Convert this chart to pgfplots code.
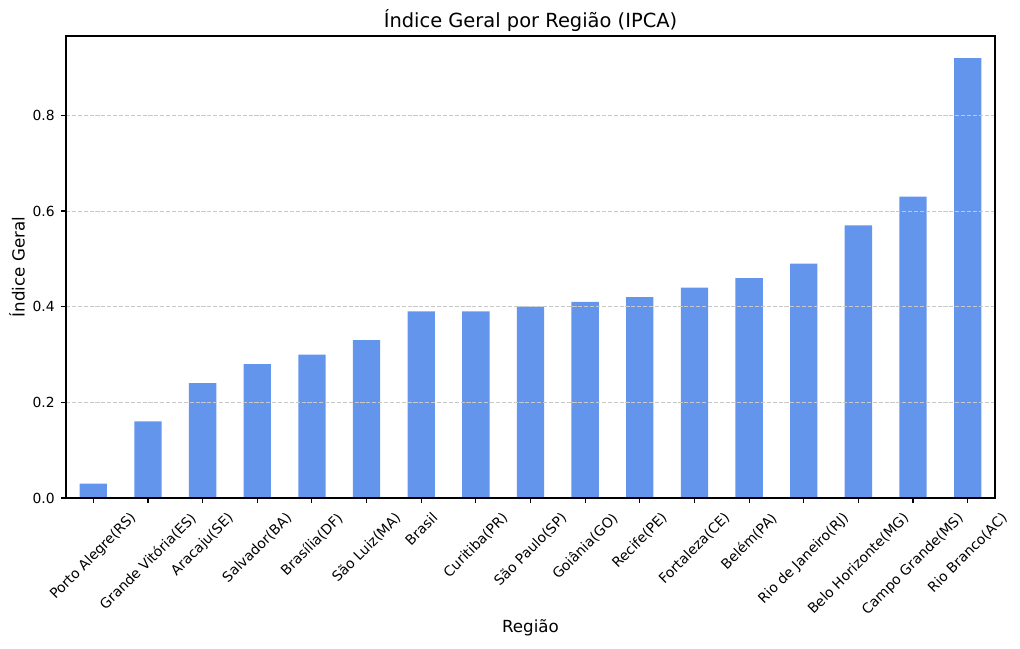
\documentclass[border=0pt]{standalone}
\usepackage{fontspec}
\setmainfont{DejaVu Sans}
\usepackage{graphicx}
\usepackage{pgfplots}
\pgfplotsset{compat=1.18}
\definecolor{barblue}{HTML}{6495ED}
\definecolor{gridgray}{HTML}{C8C8C8}
\begin{document}
\begin{tikzpicture}
\useasboundingbox (-47.52pt,-108pt) rectangle (686.88pt,358.56pt);
\begin{axis}[
  at={(0,0)}, anchor=south west,
  scale only axis,
  width=668.88pt, height=332.64pt,
  xmin=-0.5, xmax=16.5,
  ymin=0, ymax=0.966,
  axis on top,
  xtick={0,...,16},
  xticklabels={
    \rotatebox{45}{Porto Alegre(RS)},
    \rotatebox{45}{Grande Vitória(ES)},
    \rotatebox{45}{Aracaju(SE)},
    \rotatebox{45}{Salvador(BA)},
    \rotatebox{45}{Brasília(DF)},
    \rotatebox{45}{São Luiz(MA)},
    \rotatebox{45}{Brasil},
    \rotatebox{45}{Curitiba(PR)},
    \rotatebox{45}{São Paulo(SP)},
    \rotatebox{45}{Goiânia(GO)},
    \rotatebox{45}{Recife(PE)},
    \rotatebox{45}{Fortaleza(CE)},
    \rotatebox{45}{Belém(PA)},
    \rotatebox{45}{Rio de Janeiro(RJ)},
    \rotatebox{45}{Belo Horizonte(MG)},
    \rotatebox{45}{Campo Grande(MS)},
    \rotatebox{45}{Rio Branco(AC)}},
  ytick={0,0.2,0.4,0.6,0.8},
  yticklabel style={/pgf/number format/fixed, /pgf/number format/precision=1, /pgf/number format/fixed zerofill},
  /pgf/number format/assume math mode=true,
  tick label style={font=\fontsize{10}{12}\selectfont},
  xticklabel style={anchor=north, inner sep=0pt, yshift=-6pt},
  yticklabel style={anchor=east, inner sep=0pt, xshift=-4.5pt},
  tick align=outside,
  major tick length=3.5pt,
  tick style={black, line width=0.8pt},
  xtick pos=bottom, ytick pos=left,
  axis line style={black, line width=0.8pt},
  ymajorgrids,
  major grid style={gridgray, dash pattern=on 2.96pt off 1.28pt, line width=0.6pt},
  title={Índice Geral por Região (IPCA)},
  title style={font=\fontsize{14}{17}\selectfont, at={(axis description cs:0.5,1.0151)}, anchor=center, inner sep=0pt},
  xlabel={Região},
  xlabel style={font=\fontsize{12}{14}\selectfont, at={(axis description cs:0.5,-0.2814)}, anchor=center, inner sep=0pt},
  ylabel={Índice Geral},
  ylabel style={font=\fontsize{12}{14}\selectfont, at={(axis description cs:-0.0528,0.5)}, anchor=center, inner sep=0pt},
]
\addplot[ybar, bar width=0.5, fill=barblue, draw=none, bar shift=0pt] coordinates {
  (0,0.03) (1,0.16) (2,0.24) (3,0.28) (4,0.30) (5,0.33) (6,0.39) (7,0.39)
  (8,0.40) (9,0.41) (10,0.42) (11,0.44) (12,0.46) (13,0.49) (14,0.57)
  (15,0.63) (16,0.92)
};
\end{axis}
\end{tikzpicture}
\end{document}
